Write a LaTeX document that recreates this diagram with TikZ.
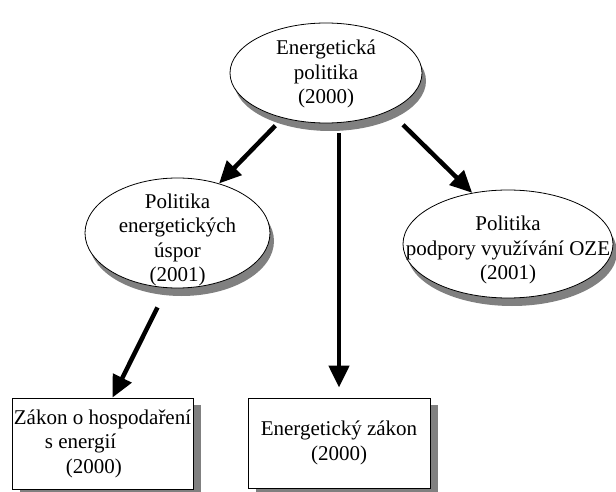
\documentclass[tikz,border=0pt]{standalone}
\usepackage{fontspec}
\setmainfont{Liberation Serif}
\usetikzlibrary{arrows.meta,shadows,shapes.geometric}

\begin{document}
\begin{tikzpicture}[x=1pt,y=-1pt,
    font=\fontsize{21}{24.5}\selectfont,
    bubble/.style={ellipse,draw,line width=0.8pt,fill=white,inner sep=0pt,
      drop shadow={fill=gray,opacity=1,shadow xshift=4pt,shadow yshift=-8pt}},
    txt/.style={align=center,inner sep=0pt},
    card/.style={rectangle,draw,line width=0.8pt,fill=white,inner sep=1pt,
      drop shadow={fill=gray,opacity=1,shadow xshift=8pt,shadow yshift=-7pt}},
    arr/.style={line width=4.5pt,-{Triangle[length=22pt,width=20pt]}}]
  \useasboundingbox (0,0) rectangle (616,492);
  % ellipses
  \node[bubble,minimum width=192pt,minimum height=100pt] (politika) at (326,73) {};
  \node[txt] (politikatext) at ([yshift=-1pt]politika) {Energetická\\politika\\(2000)};
  \node[bubble,minimum width=185pt,minimum height=110pt] (uspory) at (177.5,233) {};
  \node[txt] (usporytext) at ([yshift=-7pt]uspory) {Politika\\energetických\\úspor\\(2001)};
  \node[bubble,minimum width=210pt,minimum height=108pt] (oze) at (508,244) {};
  \node[txt] (ozetext) at ([yshift=-6pt]oze) {Politika\\podpory využívání OZE\\(2001)};
  % boxes
  \node[card,align=left,minimum width=181pt,minimum height=91pt] (zakon) at (102.5,443.5)
    {Zákon o hospodaření\\\hspace*{31pt}s energií\\\hspace*{52pt}(2000)};
  \node[card,align=center,minimum width=182pt,minimum height=90pt] (ezakon) at (339,443)
    {Energetický zákon\\(2000)};
  % arrows
  \draw[arr] ([shift={(-6pt,-8pt)}]politika.-135) -- (uspory.50);
  \draw[arr] ([shift={(18pt,-12pt)}]politika.-34) -- (oze.125);
  \draw[arr,shorten <=10pt,shorten >=10pt] (politika.south -| ezakon.north) -- (ezakon.north);
  \draw[arr] ([shift={(-20pt,-19pt)}]uspory.south) -- ([xshift=10pt]zakon.north);
\end{tikzpicture}
\end{document}
